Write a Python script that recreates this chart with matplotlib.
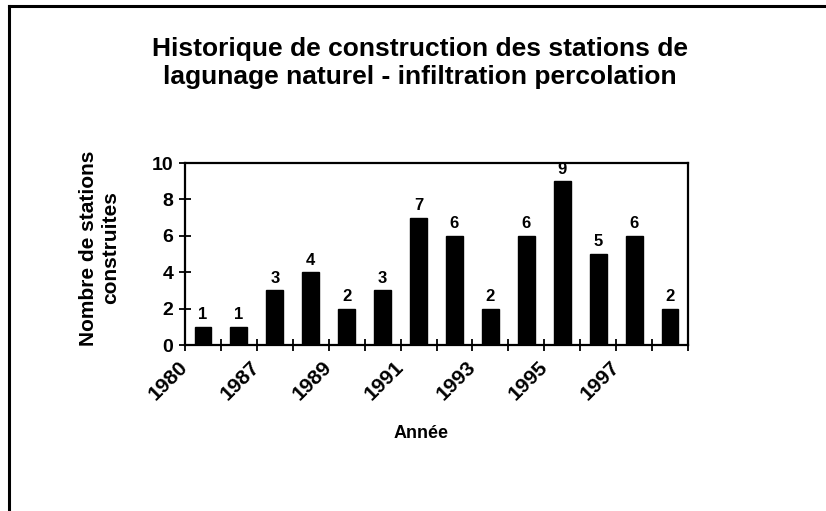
import matplotlib
matplotlib.use("Agg")
import matplotlib.pyplot as plt
from matplotlib.lines import Line2D
import numpy as np

plt.rcParams['font.family'] = ['Liberation Sans', 'DejaVu Sans']

years = ['1980', '1986', '1987', '1988', '1989', '1990', '1991',
         '1992', '1993', '1994', '1995', '1996', '1997', '1998']
counts = [1, 1, 3, 4, 2, 3, 7, 6, 2, 6, 9, 5, 6, 2]
title = "Historique de construction des stations de\nlagunage naturel - infiltration percolation"
xlabel = "Année"
ylabel = "Nombre de stations\nconstruites"
yticks = [0, 2, 4, 6, 8, 10]

W, H = 826, 511
fig = plt.figure(figsize=(W / 100, H / 100), dpi=100)
ax = fig.add_axes([185 / W, 1 - 345 / H, (688 - 185) / W, (345 - 163) / H])

x = np.arange(len(years))
ax.bar(x, counts, width=0.47, color='black', edgecolor='black')
for xi, v in zip(x, counts):
    ax.text(xi, v + 0.25, str(v), ha='center', va='bottom',
            fontsize=12, fontweight='bold')

ax.set_xlim(-0.5, len(years) - 0.5)
ax.set_ylim(0, 10)
ax.set_yticks(yticks)
ax.set_yticklabels([str(t) for t in yticks], fontsize=14, fontweight='bold')

bounds = np.arange(-0.5, len(years) + 0.5, 1.0)
ax.set_xticks(bounds)
labels = []
for i, b in enumerate(bounds):
    labels.append(years[i] if (i % 2 == 0 and i < len(years)) else '')
ax.set_xticklabels(labels, rotation=45, ha='right', va='center',
                   rotation_mode='anchor', fontsize=15, fontweight='bold')

ax.tick_params(axis='both', direction='inout', length=9, width=1.3, colors='black')
ax.tick_params(axis='x', pad=9)
ax.tick_params(axis='y', pad=4)
for s in ax.spines.values():
    s.set_linewidth(1.6)
    s.set_color('black')

fig.text(420 / W, 1 - 63 / H, title, ha='center', va='center',
         fontsize=19, fontweight='bold', linespacing=1.22)
fig.text(421 / W, 1 - 433 / H, xlabel, ha='center', va='center',
         fontsize=13, fontweight='bold')
fig.text(100 / W, 1 - 248 / H, ylabel, ha='center', va='center',
         rotation=90, fontsize=15, fontweight='bold', linespacing=1.2)

fig.add_artist(Line2D([9 / W, 9 / W], [0, 1 - 6 / H], transform=fig.transFigure,
                      color='black', lw=2.2))
fig.add_artist(Line2D([9 / W, 1], [1 - 6 / H, 1 - 6 / H], transform=fig.transFigure,
                      color='black', lw=2.2))

fig.savefig('out.png', dpi=100)
